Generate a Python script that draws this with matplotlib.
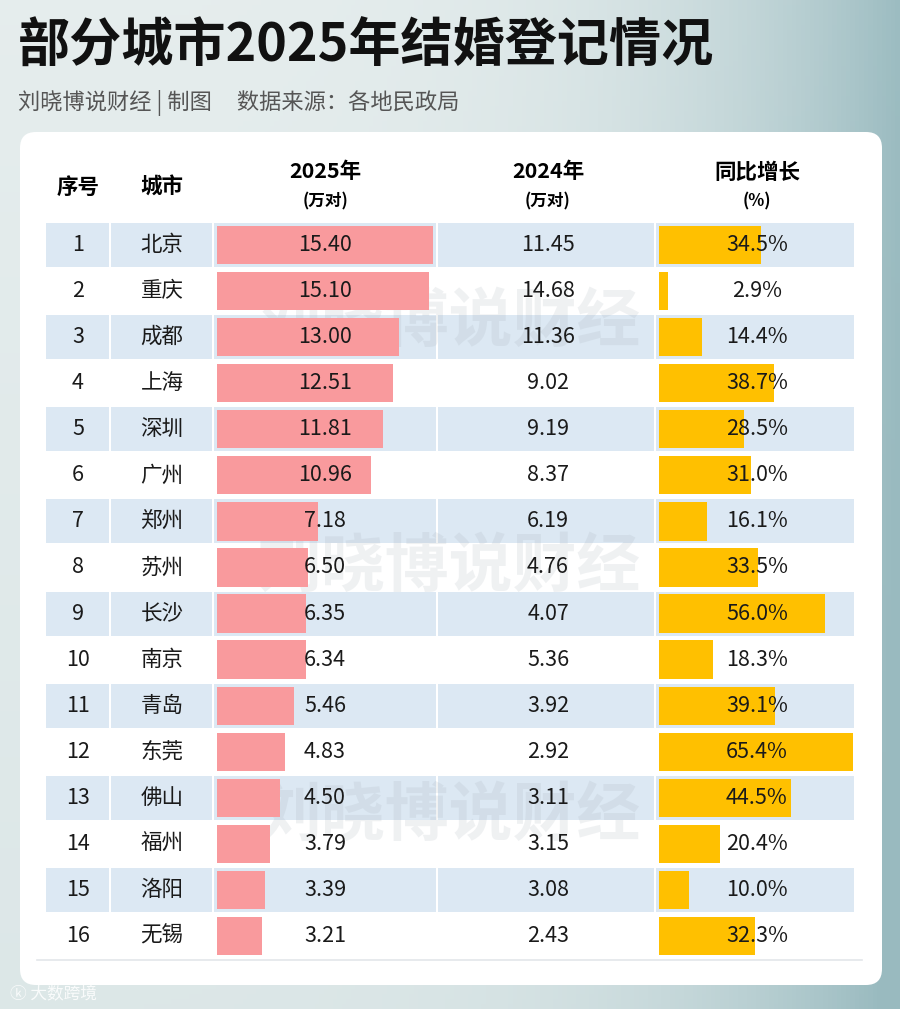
import matplotlib
matplotlib.use('Agg')
import matplotlib.pyplot as plt
from matplotlib.patches import FancyBboxPatch, Rectangle
import numpy as np

plt.rcParams['font.family'] = ['Noto Sans CJK SC', 'DejaVu Sans']

# ---- data ----
cities = ['北京', '重庆', '成都', '上海', '深圳', '广州', '郑州', '苏州',
          '长沙', '南京', '青岛', '东莞', '佛山', '福州', '洛阳', '无锡']
y2025 = [15.40, 15.10, 13.00, 12.51, 11.81, 10.96, 7.18, 6.50,
         6.35, 6.34, 5.46, 4.83, 4.50, 3.79, 3.39, 3.21]
y2024 = [11.45, 14.68, 11.36, 9.02, 9.19, 8.37, 6.19, 4.76,
         4.07, 5.36, 3.92, 2.92, 3.11, 3.15, 3.08, 2.43]
growth = [34.5, 2.9, 14.4, 38.7, 28.5, 31.0, 16.1, 33.5,
          56.0, 18.3, 39.1, 65.4, 44.5, 20.4, 10.0, 32.3]

title = '部分城市2025年结婚登记情况'
subtitle = '刘晓博说财经 | 制图     数据来源：各地民政局'
headers = ['序号', '城市', '2025年', '2024年', '同比增长']
units = ['', '', '(万对)', '(万对)', '(%)']

W, H = 900, 1009
fig = plt.figure(figsize=(W / 100, H / 100), dpi=100)

# main axes in pixel coords
ax = fig.add_axes([0, 0, 1, 1])
ax.set_xlim(0, W)
ax.set_ylim(H, 0)
ax.axis('off')

# background gradient
gx = np.linspace(0, 1, 200)
gy = np.linspace(0, 1, 200)
GX, GY = np.meshgrid(gx, gy)
c_light = np.array([0.90, 0.93, 0.93])
c_dark = np.array([0.60, 0.73, 0.75])
t = np.clip(GX ** 4 * 0.95 + GY * 0.12, 0, 1)[..., None]
img = c_light * (1 - t) + c_dark * t
ax.imshow(img, extent=[0, W, H, 0], aspect='auto', zorder=0)

# white card
card = FancyBboxPatch((20, 132), 862, 853, boxstyle='round,pad=0,rounding_size=16',
                      facecolor='white', edgecolor='none', zorder=1)
ax.add_patch(card)

ax.text(18, 46, title, fontsize=37.5, fontweight='heavy', color='#111111',
        va='center', ha='left', zorder=5)
ax.text(18, 103, subtitle, fontsize=16, color='#555555', va='center', ha='left', zorder=5)

# columns
col_x = [78, 162, 325, 548, 757]
col_edges = [45, 110, 213, 437, 655, 855]
for cx, h, u in zip(col_x, headers, units):
    if u:
        ax.text(cx, 172, h, fontsize=15.5, fontweight='bold', ha='center', va='center', zorder=5)
        ax.text(cx, 201, u, fontsize=12, fontweight='bold', ha='center', va='center', zorder=5)
    else:
        ax.text(cx, 187, h, fontsize=15.5, fontweight='bold', ha='center', va='center', zorder=5)

row_top = 222
row_bot = 959
n = len(cities)
pitch = (row_bot - row_top) / n

# striped rows
for i in range(n):
    cy = row_top + pitch * (i + 0.5)
    if i % 2 == 0:
        for x0, x1 in zip(col_edges[:-1], col_edges[1:]):
            ax.add_patch(Rectangle((x0 + 1, cy - 22), x1 - x0 - 2, 44,
                                   facecolor='#dce8f3', edgecolor='none', zorder=2))

# watermarks
for wy in [322, 567, 816]:
    ax.text(449, wy, '刘晓博说财经', fontsize=46, fontweight='bold', color='#9aa4ad',
            alpha=0.15, ha='center', va='center', zorder=3)

ax.plot([37, 862], [960, 960], color='#e3e6ea', lw=1.2, zorder=2)

# bar axes
def bar_axes(x0, x1):
    a = fig.add_axes([x0 / W, 1 - row_bot / H, (x1 - x0) / W, (row_bot - row_top) / H])
    a.set_ylim(n - 0.5, -0.5)
    a.axis('off')
    a.patch.set_alpha(0)
    a.set_zorder(4)
    return a

ax1 = bar_axes(217, 437)
ax1.set_xlim(0, 220 / 14.03)
ax1.barh(np.arange(n), y2025, height=0.83, color='#f99a9d')

ax2 = bar_axes(659, 855)
ax2.set_xlim(0, 196 / 2.966)
ax2.barh(np.arange(n), growth, height=0.83, color='#ffc000')

# text layer on top
ax3 = fig.add_axes([0, 0, 1, 1])
ax3.set_xlim(0, W)
ax3.set_ylim(H, 0)
ax3.axis('off')
ax3.patch.set_alpha(0)
ax3.set_zorder(6)
for i in range(n):
    cy = row_top + pitch * (i + 0.5)
    ax3.text(col_x[0], cy, str(i + 1), fontsize=15.5, ha='center', va='center', color='#1a1a1a')
    ax3.text(col_x[1], cy, cities[i], fontsize=15.5, ha='center', va='center', color='#1a1a1a')
    ax3.text(col_x[2], cy, f'{y2025[i]:.2f}', fontsize=15.5, ha='center', va='center', color='#1a1a1a')
    ax3.text(col_x[3], cy, f'{y2024[i]:.2f}', fontsize=15.5, ha='center', va='center', color='#1a1a1a')
    ax3.text(col_x[4], cy, f'{growth[i]:.1f}%', fontsize=15.5, ha='center', va='center', color='#1a1a1a')

ax3.text(10, 995, 'ⓚ 大数跨境', fontsize=12, color='white', alpha=0.85,
         ha='left', va='center', family=['Noto Sans CJK SC', 'DejaVu Sans'])

fig.savefig('out.png', dpi=100)
